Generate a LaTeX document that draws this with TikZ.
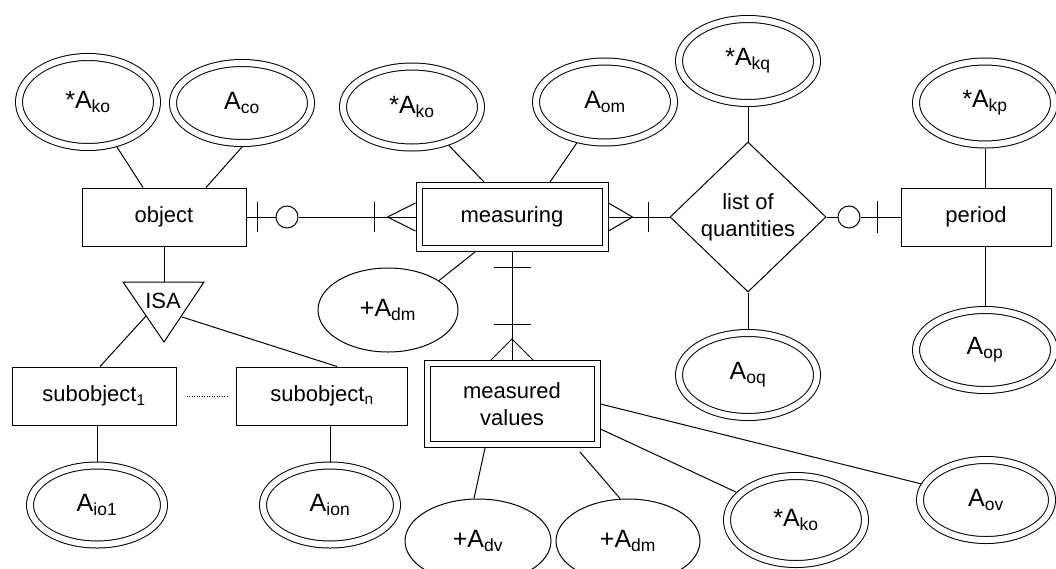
\documentclass[tikz,border=0pt]{standalone}
\usepackage{fontspec}
\setmainfont{Liberation Sans}
\usetikzlibrary{shapes}
\tikzstyle{entity}=[rectangle,draw,line width=1pt,minimum height=58pt,inner sep=0pt,align=center,font=\fontsize{22}{27}\selectfont]
\tikzstyle{weakentity}=[entity,double,double distance=5pt,outer sep=3.5pt]
\tikzstyle{keyattr}=[ellipse,draw,line width=1pt,double,double distance=6pt,outer sep=4pt,inner sep=0pt,font=\fontsize{25}{27}\selectfont]
\tikzstyle{attr}=[ellipse,draw,line width=1pt,minimum height=84pt,inner sep=0pt,font=\fontsize{25}{27}\selectfont]
\tikzstyle{relation}=[diamond,draw,line width=1pt,minimum width=156pt,minimum height=150pt,inner sep=0pt,align=center,font=\fontsize{22}{27}\selectfont]
\tikzstyle{optional}=[circle,draw,line width=1pt,minimum size=22pt,inner sep=0pt]
\tikzstyle{edge}=[draw,line width=1pt]

\begin{document}
\begin{tikzpicture}[x=1pt,y=-1pt]
    \clip (0,0) rectangle (1056,568);

    % entities
    \foreach \x/\y/\w/\name/\txt in {164/217/164/object/object, 976/217/150/period/period, 94/396/164/subA/subobject\textsubscript{1}, 322/396/171/subN/subobject\textsubscript{n}}
        \node[entity, minimum width=\w pt] (\name) at (\x,\y) {\txt};

    \node[weakentity, minimum width=186pt, minimum height=63pt] (measuring) at (512,217) {measuring};
    \node[weakentity, minimum width=170pt, minimum height=81pt] (mv) at (512,404) {measured\\values};
    \node[relation] (lq) at (748,217) {list of\\quantities};

    % key attributes
    \foreach \x/\y/\w/\h/\name/\txt in {88/102/138/90/akoA/{*A\textsubscript{ko}}, 242/103/138/80/aco/{A\textsubscript{co}},
        412/107/138/81/akoB/{*A\textsubscript{ko}}, 605/102/138/81/aom/{A\textsubscript{om}},
        748/61/138/84/akq/{*A\textsubscript{kq}}, 985/103/138/83/akp/{*A\textsubscript{kp}},
        985/350/138/80/aop/{A\textsubscript{op}}, 748/375/138/84/aoq/{A\textsubscript{oq}},
        796/520/138/88/akoC/{*A\textsubscript{ko}}, 986/500/132/80/aov/{A\textsubscript{ov}},
        97/505/134/79/aio1/{A\textsubscript{io1}}, 330/505/134/79/aion/{A\textsubscript{ion}}}
        \node[keyattr, minimum width=\w pt, minimum height=\h pt] (\name) at (\x,\y) {\txt};

    % derived attributes
    \foreach \x/\y/\w/\name/\txt in {388/310/140/admA/{+A\textsubscript{dm}}, 478/541/146/adv/{+A\textsubscript{dv}}, 628/541/144/admB/{+A\textsubscript{dm}}}
        \node[attr, minimum width=\w pt] (\name) at (\x,\y) {\txt};

    % ISA
    \coordinate (isaNW) at (123,282);
    \coordinate (isaNE) at (204,282);
    \coordinate (isaS) at (164,342);
    \coordinate (isaT) at (164,282);
    \coordinate (isaL) at (146,316);
    \coordinate (isaR) at (182,317);
    \path[edge] (isaNW) -- (isaNE) -- (isaS) -- cycle;
    \node[font=\fontsize{22}{25}\selectfont] (isa) at (163,301) {ISA};
    \path[edge] (object.south) -- (isaT);
    \path[edge] (isaL) -- ([xshift=6pt]subA.north);
    \path[edge] (isaR) -- ([xshift=15pt]subN.north);
    \path[draw, line width=1pt, dash pattern=on 1pt off 1.5pt, shorten <=10pt, shorten >=7pt] (subA) -- (subN);

    % object -- measuring
    \node[optional] (oc1) at (287,217) {};
    \path[edge] (object) -- (oc1);
    \path[edge] (oc1) -- (measuring);
    \path[edge] ([xshift=11pt]object.east) ++(0,-15) -- ++(0,30);
    \path[edge] ([xshift=-41pt]measuring.west) ++(0,-15) -- ++(0,30);
    \coordinate (cf1) at ([xshift=-28pt]measuring.west);
    \path[edge] (cf1) -- ([yshift=14pt]measuring.west);
    \path[edge] (cf1) -- ([yshift=-14pt]measuring.west);

    % measuring -- list of quantities
    \path[edge] (measuring) -- (lq);
    \coordinate (cf2) at ([xshift=24pt]measuring.east);
    \path[edge] (cf2) -- ([yshift=14pt]measuring.east);
    \path[edge] (cf2) -- ([yshift=-14pt]measuring.east);
    \path[edge] ([xshift=40pt]measuring.east) ++(0,-15) -- ++(0,30);

    % list of quantities -- period
    \node[optional] (oc2) at (849,217) {};
    \path[edge] (lq) -- (oc2);
    \path[edge] (oc2) -- (period);
    \path[edge] ([xshift=-23pt]period.west) ++(0,-16) -- ++(0,32);

    % measuring -- measured values
    \path[edge] (measuring) -- (mv);
    \path[edge] ([yshift=-15pt]measuring.south) ++(-18,0) -- ++(37,0);
    \path[edge] ([yshift=36pt]mv.north) ++(-18,0) -- ++(37,0);
    \coordinate (cf3) at ([yshift=21pt]mv.north);
    \path[edge] (cf3) -- ([xshift=-21pt]mv.north);
    \path[edge] (cf3) -- ([xshift=21pt]mv.north);

    % attributes
    \path[edge] (akoA) -- ([xshift=-21pt]object.north);
    \path[edge] (aco.south) -- ([xshift=42pt]object.north);
    \path[edge] (akoB) -- ([xshift=-28pt]measuring.north);
    \path[edge] (aom) -- ([xshift=38pt]measuring.north);
    \path[edge] (akq) -- (lq);
    \path[edge] (akp) -- (akp |- period.north);
    \path[edge] (aop) -- (aop |- period.south);
    \path[edge] (lq) -- (aoq);
    \path[edge] (admA.30) -- ([xshift=-37pt]measuring.south);
    \path[edge] ([xshift=-27pt]mv.south) -- ([xshift=-4pt]adv.north);
    \path[edge] ([xshift=68pt,yshift=-4pt]mv.south) -- ([xshift=-8pt]admB.north);
    \path[edge] (mv.east) -- (aov);
    \path[edge] ([yshift=-25pt]mv.east) -- (akoC);
    \path[edge] (aio1) -- (aio1 |- subA.south);
    \path[edge] (aion) -- (aion |- subN.south);

\end{tikzpicture}
\end{document}
